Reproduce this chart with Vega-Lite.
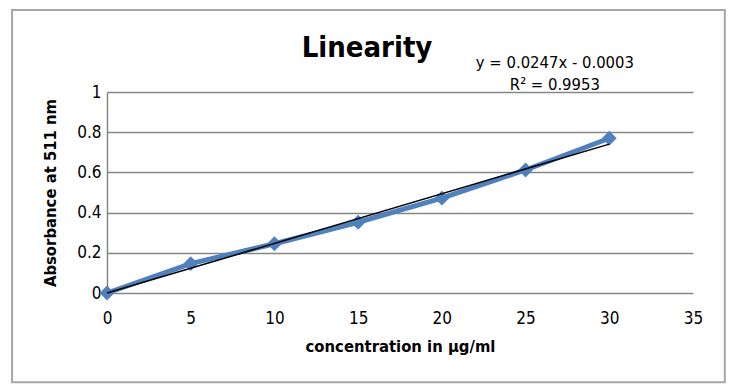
{
  "$schema": "https://vega.github.io/schema/vega-lite/v6.json",
  "width": 586,
  "height": 201,
  "autosize": {"type": "none"},
  "padding": {"left": 107, "top": 92, "right": 51, "bottom": 97},
  "background": "white",
  "config": {
    "font": "DejaVu Sans Condensed",
    "view": {"stroke": null}
  },
  "title": {
    "text": "Linearity",
    "font": "DejaVu Sans Condensed",
    "fontSize": 29,
    "fontWeight": "bold",
    "color": "black",
    "anchor": "middle",
    "frame": "group",
    "dx": -33,
    "offset": -54
  },
  "datasets": {
    "absorbance": [
      {"conc": 0, "abs": 0},
      {"conc": 5, "abs": 0.146},
      {"conc": 10, "abs": 0.245},
      {"conc": 15, "abs": 0.352},
      {"conc": 20, "abs": 0.472},
      {"conc": 25, "abs": 0.612},
      {"conc": 30, "abs": 0.77}
    ],
    "trend": [
      {"conc": 0, "abs": -0.0003},
      {"conc": 30, "abs": 0.7407}
    ],
    "single": [{}]
  },
  "layer": [
    {
      "description": "Chart frame",
      "data": {"name": "single"},
      "mark": {"type": "rect", "fill": null, "stroke": "#a6a6a6", "strokeWidth": 2, "clip": false},
      "encoding": {
        "x": {"datum": -5.67, "type": "quantitative", "scale": {"domain": [0, 35]}},
        "x2": {"datum": 36.9},
        "y": {"datum": 1.408, "type": "quantitative", "scale": {"domain": [0, 1]}},
        "y2": {"datum": -0.444}
      }
    },
    {
      "data": {"name": "absorbance"},
      "mark": {"type": "line", "color": "#4f81bd", "strokeWidth": 5},
      "encoding": {
        "x": {
          "field": "conc",
          "type": "quantitative",
          "scale": {"domain": [0, 35], "nice": false},
          "axis": {
            "title": "concentration in µg/ml",
            "titleFont": "DejaVu Sans Condensed",
            "titleFontSize": 16.5,
            "titleFontWeight": "bold",
            "titleColor": "black",
            "titlePadding": 12,
            "values": [0, 5, 10, 15, 20, 25, 30, 35],
            "labelFont": "DejaVu Sans Condensed",
            "labelFontSize": 17,
            "labelColor": "black",
            "labelPadding": 17,
            "labelFlush": false,
            "ticks": false,
            "domain": false,
            "grid": false
          }
        },
        "y": {
          "field": "abs",
          "type": "quantitative",
          "scale": {"domain": [0, 1], "nice": false},
          "axis": {
            "title": "Absorbance at 511 nm",
            "titleFont": "DejaVu Sans Condensed",
            "titleFontSize": 16.5,
            "titleFontWeight": "bold",
            "titleColor": "black",
            "titlePadding": 18,
            "values": [0, 0.2, 0.4, 0.6, 0.8, 1],
            "format": "~g",
            "labelFont": "DejaVu Sans Condensed",
            "labelFontSize": 17,
            "labelColor": "black",
            "labelPadding": 6,
            "labelFlush": false,
            "ticks": false,
            "domain": true,
            "domainColor": "#868686",
            "domainWidth": 1.5,
            "grid": true,
            "gridColor": "#868686",
            "gridWidth": 1.5
          }
        }
      }
    },
    {
      "data": {"name": "absorbance"},
      "mark": {"type": "point", "shape": "diamond", "filled": true, "opacity": 1, "color": "#4f81bd", "size": 220, "clip": false},
      "encoding": {
        "x": {"field": "conc", "type": "quantitative"},
        "y": {"field": "abs", "type": "quantitative"}
      }
    },
    {
      "data": {"name": "trend"},
      "mark": {"type": "line", "color": "black", "strokeWidth": 1.5, "clip": false},
      "encoding": {
        "x": {"field": "conc", "type": "quantitative"},
        "y": {"field": "abs", "type": "quantitative"}
      }
    },
    {
      "description": "Trendline equation",
      "data": {"name": "single"},
      "mark": {"type": "text", "font": "DejaVu Sans Condensed", "fontSize": 16.5, "color": "black", "align": "center", "baseline": "middle", "lineBreak": "\n", "lineHeight": 22, "clip": false},
      "encoding": {
        "x": {"datum": 26.75, "type": "quantitative"},
        "y": {"datum": 1.143, "type": "quantitative"},
        "text": {"value": "y = 0.0247x - 0.0003\nR² = 0.9953"}
      }
    }
  ]
}
